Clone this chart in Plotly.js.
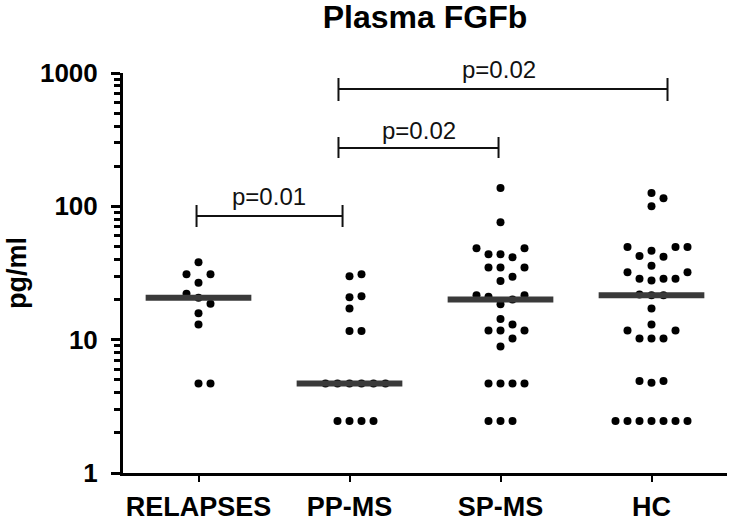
<!DOCTYPE html>
<html>
<head>
<meta charset="utf-8">
<script src="https://cdn.plot.ly/plotly-3.0.1.min.js"></script>
<style>
  html, body { margin: 0; padding: 0; background: #fff; }
  #chart { width: 733px; height: 526px; }
</style>
</head>
<body>
<div id="chart"></div>
<script>
// ---- data ----
const categories = ['RELAPSES', 'PP-MS', 'SP-MS', 'HC'];
const relapses = [38, 31, 31, 26.7, 22.1, 20.6, 18.6, 15.8, 13.0, 4.7, 4.7];
const ppms = [31, 29.9, 21.2, 20.8, 17.1, 11.6, 11.6, 4.7, 4.7, 4.7, 4.7, 4.7, 4.7, 2.45, 2.45, 2.45, 2.45];
const spms = [137, 76, 48.4, 48.4, 43.7, 43.7, 41.5, 34.7, 34.7, 34.7, 29.7, 27.6,
              21.5, 21.0, 20.0, 21.5, 18.4, 14.3, 13.0, 11.7, 11.7, 11.7, 10.2, 8.9,
              4.7, 4.7, 4.7, 4.7, 2.45, 2.45, 2.45];
const hc = [126, 115, 100, 49.6, 49.6, 49.6, 46.5, 42.5, 41.8, 35.8, 32, 32,
            28.6, 28.6, 28.6, 27.8, 21.5, 21.5, 21.8, 17.1, 13.0, 11.7, 11.7,
            10.2, 10.2, 10.2, 4.9, 4.9, 4.75, 2.45, 2.45, 2.45, 2.45, 2.45, 2.45, 2.45];
const groups = [relapses, ppms, spms, hc];
const comparisonLabels = ['p=0.01', 'p=0.02', 'p=0.02'];
const yTickVals = [1, 10, 100, 1000];
const yTickText = ['1', '10', '100', '1000'];
const chartTitle = 'Plasma FGFb';
const yTitle = 'pg/ml';

// ---- layout constants ----
const W = 733, H = 526;
const M = { l: 123, r: 6, t: 73, b: 53 };
const PX_PER_X = (W - M.l - M.r) / 4;     // px per category unit
const PX_PER_DEC = (H - M.t - M.b) / 3;   // px per decade
const FONT = '"Liberation Sans", Arial, Helvetica, sans-serif';

// deterministic beeswarm offsets (pixel space -> data units)
function swarm(vals, gi) {
  const STEP = 12, MIND = 10.5;
  const order = vals.map((v, i) => i).sort((a, b) => vals[a] - vals[b]);
  const placed = [];
  const xs = new Array(vals.length);
  const cands = [0];
  for (let k = 1; k < 12; k++) { cands.push(k, -k); }
  order.forEach(idx => {
    const py = Math.log10(vals[idx]) * PX_PER_DEC;
    for (const k of cands) {
      const px = k * STEP;
      const ok = placed.every(p => Math.hypot(p[0] - px, p[1] - py) >= MIND);
      if (ok) { placed.push([px, py]); xs[idx] = gi + px / PX_PER_X; break; }
    }
  });
  return xs;
}
function median(a) {
  const s = a.slice().sort((x, y) => x - y);
  const n = s.length;
  return n % 2 ? s[(n - 1) / 2] : (s[n / 2 - 1] + s[n / 2]) / 2;
}

const traces = [];
groups.forEach((vals, gi) => {
  traces.push({
    type: 'scatter', mode: 'markers',
    x: swarm(vals, gi), y: vals,
    marker: { size: 8, color: '#000' },
    cliponaxis: false, hoverinfo: 'skip'
  });
});
groups.forEach((vals, gi) => {
  const m = median(vals);
  traces.push({
    type: 'scatter', mode: 'lines',
    x: [gi - 0.35, gi + 0.35], y: [m, m],
    line: { color: '#3a3a3a', width: 6 },
    hoverinfo: 'skip'
  });
});

// minor ticks of log axis
const minorVals = [];
[1, 10, 100].forEach(d => { for (let k = 2; k <= 9; k++) minorVals.push(d * k); });

// significance brackets (x in category units, y in paper units)
const pyPaper = px => (H - M.b - px) / (H - M.t - M.b);
const brackets = [
  { x0: -0.013, x1: 0.954, y: 216, cap0: 205, cap1: 227, tx: 0.464, ty: 196 },
  { x0: 0.927, x1: 1.987, y: 148, cap0: 137, cap1: 158, tx: 1.457, ty: 130 },
  { x0: 0.927, x1: 3.106, y: 89, cap0: 78, cap1: 101, tx: 1.987, ty: 69 }
];
const shapes = [];
const annotations = [];
const lineStyle = { color: '#111', width: 2 };
brackets.forEach((b, i) => {
  shapes.push({ type: 'line', xref: 'x', yref: 'paper', x0: b.x0, x1: b.x1, y0: pyPaper(b.y), y1: pyPaper(b.y), line: lineStyle });
  shapes.push({ type: 'line', xref: 'x', yref: 'paper', x0: b.x0, x1: b.x0, y0: pyPaper(b.cap0), y1: pyPaper(b.cap1), line: lineStyle });
  shapes.push({ type: 'line', xref: 'x', yref: 'paper', x0: b.x1, x1: b.x1, y0: pyPaper(b.cap0), y1: pyPaper(b.cap1), line: lineStyle });
  annotations.push({
    xref: 'x', yref: 'paper', x: b.tx, y: pyPaper(b.ty),
    xanchor: 'center', yanchor: 'middle', showarrow: false,
    text: comparisonLabels[i],
    font: { family: FONT, size: 24, color: '#111' }
  });
});

const layout = {
  width: W, height: H,
  margin: M,
  paper_bgcolor: '#fff', plot_bgcolor: '#fff',
  showlegend: false,
  hovermode: false,
  title: {
    text: chartTitle,
    font: { family: FONT, size: 32, color: '#000', weight: 'bold' },
    x: 0.5, xref: 'paper', xanchor: 'center',
    y: 1 - 17 / H, yref: 'container', yanchor: 'middle'
  },
  xaxis: {
    range: [-0.5, 3.5],
    tickmode: 'array', tickvals: [0, 1, 2, 3], ticktext: categories,
    showline: true, linecolor: '#000', linewidth: 3,
    ticks: 'outside', ticklen: 6, tickwidth: 2, tickcolor: '#000',
    ticklabelstandoff: 2,
    showgrid: false, zeroline: false,
    tickfont: { family: FONT, size: 27, color: '#000', weight: 'bold' }
  },
  yaxis: {
    type: 'log', range: [0, 3],
    tickmode: 'array', tickvals: yTickVals, ticktext: yTickText,
    showline: true, linecolor: '#000', linewidth: 3,
    ticks: 'outside', ticklen: 9, tickwidth: 3, tickcolor: '#000',
    ticklabelstandoff: 8,
    minor: { tickmode: 'array', tickvals: minorVals, ticks: 'outside', ticklen: 6, tickwidth: 3, tickcolor: '#000', showgrid: false },
    showgrid: false, zeroline: false,
    tickfont: { family: FONT, size: 26, color: '#000', weight: 'bold' },
    title: {
      text: yTitle, standoff: 6,
      font: { family: FONT, size: 27, color: '#000', weight: 'bold' }
    }
  },
  shapes: shapes,
  annotations: annotations
};

Plotly.newPlot('chart', traces, layout, { staticPlot: true, displayModeBar: false });
</script>
</body>
</html>
